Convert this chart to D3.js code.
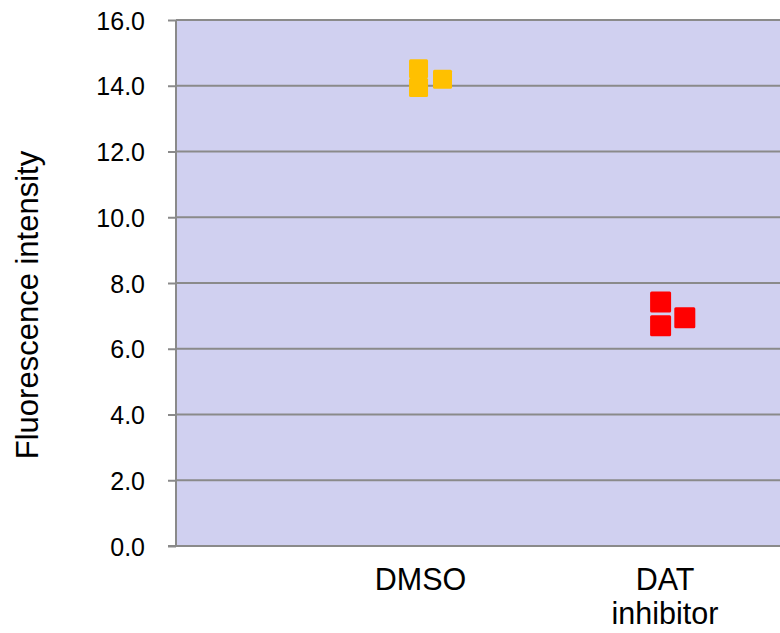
<!DOCTYPE html>
<html>
<head>
<meta charset="utf-8">
<script src="https://cdn.jsdelivr.net/npm/d3@7"></script>
<style>
  html, body { margin: 0; padding: 0; background: #ffffff; }
  svg { display: block; font-family: "Liberation Sans", Arial, sans-serif; }
</style>
</head>
<body>
<svg id="chart" width="780" height="633"></svg>
<script>
// ---- data ----
const categories = ["DMSO", "DAT inhibitor"];
const categoryPositions = [1, 2];
const yTicks = [0, 2, 4, 6, 8, 10, 12, 14, 16];
const dmsoX = [0.992, 0.992, 1.090];
const dmsoY = [14.52, 13.95, 14.20];
const datX = [1.982, 1.982, 2.081];
const datY = [7.42, 6.70, 6.94];
const yTitle = "Fluorescence intensity";

// ---- layout ----
const svg = d3.select("#chart");
const plotLeft = 176, plotTop = 20, plotBottom = 546;
const x = d3.scaleLinear().domain([0, 3]).range([plotLeft, plotLeft + 3 * 244.5]);
const y = d3.scaleLinear().domain([0, 16]).range([plotBottom, plotTop]);

// plot background
svg.append("rect")
  .attr("x", plotLeft).attr("y", plotTop)
  .attr("width", 780 - plotLeft).attr("height", plotBottom - plotTop)
  .attr("fill", "#d0d0f0");

// gridlines
svg.append("g").selectAll("line").data(yTicks.filter(d => d > 0)).join("line")
  .attr("x1", plotLeft).attr("x2", 780)
  .attr("y1", d => y(d)).attr("y2", d => y(d))
  .attr("stroke", "#8a8a8a").attr("stroke-width", 2);

// y axis
const yAxis = d3.axisLeft(y).tickValues(yTicks).tickSize(8).tickPadding(23)
  .tickFormat(d3.format(".1f"));
const gy = svg.append("g").attr("transform", `translate(${plotLeft},0)`).call(yAxis);
gy.select(".domain").attr("stroke", "#8a8a8a").attr("stroke-width", 2)
  .attr("d", `M0,${plotTop}V${plotBottom}`);
gy.selectAll(".tick line").attr("stroke", "#8a8a8a").attr("stroke-width", 2);
gy.selectAll(".tick text").attr("font-size", 25).attr("fill", "#000")
  .attr("font-family", "'Liberation Sans', Arial, sans-serif")
  .attr("dy", "0.36em");

// x axis line
svg.append("line")
  .attr("x1", plotLeft - 8).attr("x2", 780)
  .attr("y1", plotBottom).attr("y2", plotBottom)
  .attr("stroke", "#8a8a8a").attr("stroke-width", 2);

// category labels
const lab = svg.append("g").selectAll("text").data(categories).join("text")
  .attr("x", (d, i) => x(categoryPositions[i]))
  .attr("y", 590)
  .attr("text-anchor", "middle")
  .attr("font-size", 30.5)
  .attr("fill", "#000");
lab.each(function(d) {
  const words = d.split(" ");
  const t = d3.select(this);
  words.forEach((w, j) => {
    t.append("tspan").attr("x", t.attr("x")).attr("dy", j === 0 ? 0 : 34).text(w);
  });
});

// markers
function drawSeries(xs, ys, color, size) {
  svg.append("g").selectAll("rect").data(xs.map((v, i) => [v, ys[i]])).join("rect")
    .attr("x", d => x(d[0]) - size / 2)
    .attr("y", d => y(d[1]) - size / 2)
    .attr("width", size).attr("height", size)
    .attr("rx", 1.5)
    .attr("fill", color);
}
drawSeries(dmsoX, dmsoY, "#ffc000", 19);
drawSeries(datX, datY, "#ff0000", 21);

// y title
svg.append("text")
  .attr("transform", `translate(38,${(plotTop + plotBottom) / 2 + 22}) rotate(-90)`)
  .attr("text-anchor", "middle")
  .attr("font-size", 31)
  .attr("fill", "#000")
  .text(yTitle);
</script>
</body>
</html>
